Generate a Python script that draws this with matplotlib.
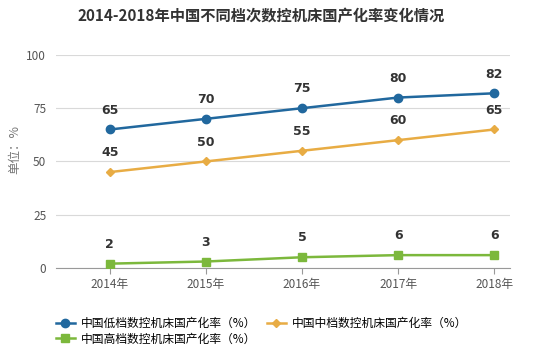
import numpy as np
import matplotlib.pyplot as plt
from matplotlib.lines import Line2D

plt.rcParams['font.family'] = ['Noto Sans CJK SC', 'DejaVu Sans']

years = ['2014年', '2015年', '2016年', '2017年', '2018年']
low_end = [65, 70, 75, 80, 82]
mid_end = [45, 50, 55, 60, 65]
high_end = [2, 3, 5, 6, 6]
series_names = ['中国低档数控机床国产化率（%）',
                '中国中档数控机床国产化率（%）',
                '中国高档数控机床国产化率（%）']

colors = ['#21689e', '#e8ac44', '#7cb83c']
markers = ['o', 'D', 's']
msizes = [6, 4, 6]

fig = plt.figure(figsize=(5.6, 3.64), dpi=100)
ax = fig.add_axes([0.1, 0.264, 0.81, 0.585])

x = np.arange(len(years))
for vals, c, m, ms in zip([low_end, mid_end, high_end], colors, markers, msizes):
    ax.plot(x, vals, color=c, lw=1.8, marker=m, ms=ms, zorder=3)
    for xi, v in zip(x, vals):
        ax.text(xi, v + 6, str(v), ha='center', va='bottom', fontsize=9,
                fontweight='bold', color='#333333', family='DejaVu Sans')

ax.set_xlim(-0.56, 4.16)
ax.set_ylim(0, 100)
ax.set_yticks([0, 25, 50, 75, 100])
ax.set_xticks(x)
ax.set_xticklabels(years)
ax.grid(axis='y', color='#d9d9d9', lw=0.8)
ax.set_axisbelow(True)
for s in ['top', 'right', 'left']:
    ax.spines[s].set_visible(False)
ax.spines['bottom'].set_color('#999999')
ax.tick_params(axis='y', length=0, labelsize=8.5, colors='#555555', pad=7)
ax.tick_params(axis='x', length=4, color='#999999', labelsize=8.5, colors='#555555')

fig.text(0.027, 0.588, '单位：%', rotation=90, ha='center', va='center',
         fontsize=9, color='#777777')
fig.text(0.467, 0.955, '2014-2018年中国不同档次数控机床国产化率变化情况', ha='center',
         va='center', fontsize=11, fontweight='bold', color='#333333')

# column-wise fill: low / high in col 1, mid in col 2
order = [0, 2, 1]
handles = [Line2D([], [], color=colors[i], marker=markers[i], ms=msizes[i], lw=1.8)
           for i in order]
labels = [series_names[i] for i in order]
fig.legend(handles, labels, loc='upper left', bbox_to_anchor=(0.1, 0.13),
           ncol=2, frameon=False, fontsize=8.5, handlelength=1.6,
           handletextpad=0.5, columnspacing=0.9, labelspacing=0.25,
           borderaxespad=0, borderpad=0)

fig.savefig('out.png', dpi=100)
